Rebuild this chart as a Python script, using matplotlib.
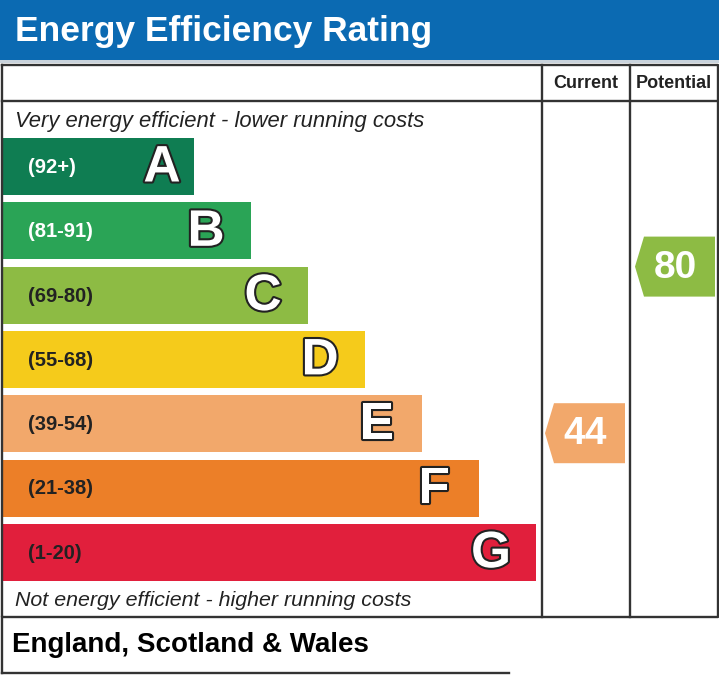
import matplotlib
matplotlib.use("Agg")
import matplotlib.pyplot as plt
import matplotlib.patheffects as pe
from matplotlib.patches import Rectangle, Polygon
import numpy as np

# bands of the EPC chart
letters = ["A", "B", "C", "D", "E", "F", "G"]
ranges = ["(92+)", "(81-91)", "(69-80)", "(55-68)", "(39-54)", "(21-38)", "(1-20)"]
band_low = [92, 81, 69, 55, 39, 21, 1]
band_high = [100, 91, 80, 68, 54, 38, 20]
colors = ["#0f7d52", "#2aa456", "#8dbb44", "#f5cb1b", "#f2a86b", "#ec7f28", "#e11f3c"]
label_colors = ["white", "white", "#222222", "#222222", "#222222", "#222222", "#222222"]

current = 44
potential = 80

plt.rcParams["font.family"] = ["Liberation Sans", "DejaVu Sans"]

W, H = 719, 675
fig = plt.figure(figsize=(W / 100, H / 100), dpi=100)
ax = fig.add_axes([0, 0, 1, 1])
ax.set_xlim(0, W)
ax.set_ylim(H, 0)
ax.axis("off")

# header
ax.add_patch(Rectangle((0, 0), W, 60, color="#0b6ab2", lw=0))
ax.add_patch(Rectangle((0, 60), W, 2.5, color="#c9d3dc", lw=0))
ax.text(15, 31, "Energy Efficiency Rating", color="white", fontsize=25.5,
        fontweight="bold", va="center", ha="left")

# table frame
lc = "#333333"
lw = 1.7
top, bottom, left, right = 65, 617, 1.5, 717.5
col1, col2 = 542, 630
ax.plot([left, right, right, left, left], [top, top, bottom, bottom, top], color=lc, lw=lw)
ax.plot([col1, col1], [top, bottom], color=lc, lw=lw)
ax.plot([col2, col2], [top, bottom], color=lc, lw=lw)
ax.plot([left, right], [101, 101], color=lc, lw=lw)
ax.text((col1 + col2) / 2, 84, "Current", fontsize=13, fontweight="bold",
        ha="center", va="center", color="#222222")
ax.text((col2 + right) / 2, 84, "Potential", fontsize=13, fontweight="bold",
        ha="center", va="center", color="#222222")

ax.text(15, 121, "Very energy efficient - lower running costs", fontsize=15.8,
        style="italic", ha="left", va="center", color="#222222")
ax.text(15, 601, "Not energy efficient - higher running costs", fontsize=15.4,
        style="italic", ha="left", va="center", color="#222222")

# bars
bar_top0, step, bar_h = 138, 64.3, 57
bar_x0, end0, end_step = 2, 194, 57
tops = []
for i, (let, rng, c, tc) in enumerate(zip(letters, ranges, colors, label_colors)):
    y = bar_top0 + i * step
    tops.append(y)
    xe = end0 + i * end_step
    ax.add_patch(Rectangle((bar_x0, y), xe - bar_x0, bar_h, color=c, lw=0))
    ax.text(28, y + bar_h / 2 + 1, rng, fontsize=14.5, fontweight="bold",
            color=tc, ha="left", va="center")
    off = 32 if i == 0 else 45
    ax.text(xe - off, y + bar_h / 2 + 1.5, let, fontsize=37, fontweight="bold",
            color="white", ha="center", va="center",
            path_effects=[pe.withStroke(linewidth=3, foreground="#222222")])


def band_of(score):
    for i in range(len(letters)):
        if band_low[i] <= score <= band_high[i]:
            return i
    return len(letters) - 1


def score_y(score):
    # position inside the band, from bottom of bar (low) to top (high)
    i = band_of(score)
    return np.interp(score, [band_low[i], band_high[i]], [tops[i] + bar_h, tops[i]])


def arrow(x0, x1, score):
    yc = score_y(score)
    h = 60
    pts = [(x0, yc), (x0 + 9, yc - h / 2), (x1, yc - h / 2), (x1, yc + h / 2), (x0 + 9, yc + h / 2)]
    ax.add_patch(Polygon(pts, closed=True, color=colors[band_of(score)], lw=0))
    ax.text((x0 + x1) / 2, yc + 1, str(score), fontsize=28, fontweight="bold",
            color="white", ha="center", va="center")


arrow(col1 + 3, col2 - 5, current)
arrow(col2 + 5, right - 2.5, potential)

# footer
ax.plot([left, left], [bottom, 673], color=lc, lw=lw)
ax.plot([left, 509], [673, 673], color=lc, lw=lw)
ax.text(12, 645, "England, Scotland & Wales", fontsize=20, fontweight="bold",
        ha="left", va="center", color="black")

fig.savefig("out.png", dpi=100)
